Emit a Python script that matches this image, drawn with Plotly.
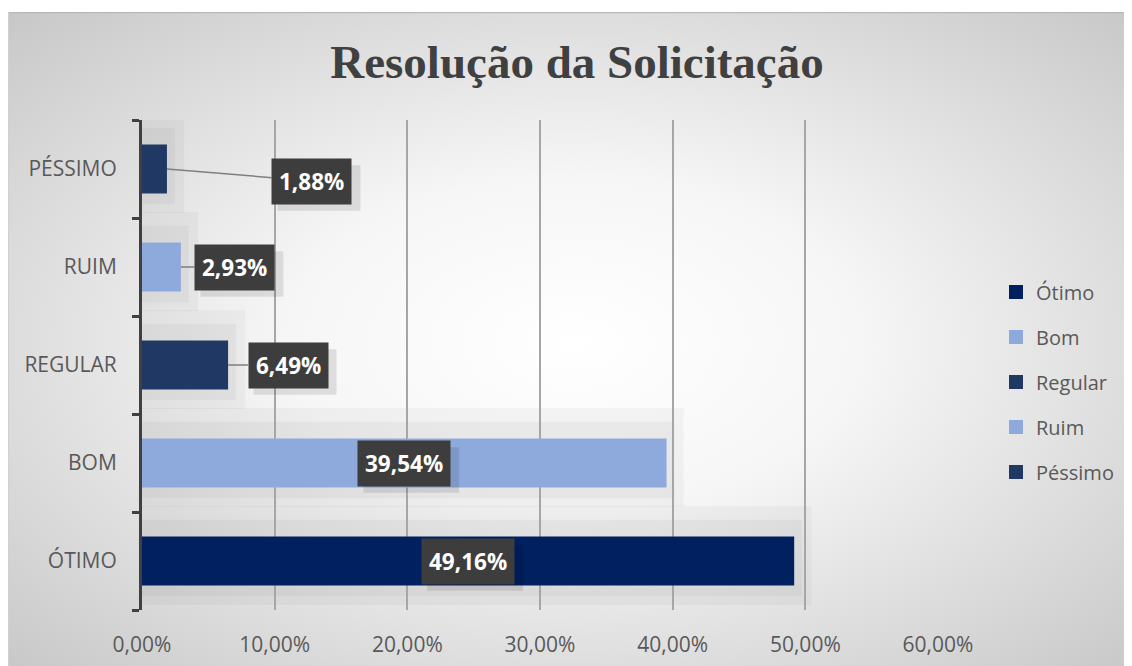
import base64
import plotly.graph_objects as go

# ---------------- data ----------------
categories = ["ÓTIMO", "BOM", "REGULAR", "RUIM", "PÉSSIMO"]
series_names = ["Ótimo", "Bom", "Regular", "Ruim", "Péssimo"]
values = [49.16, 39.54, 6.49, 2.93, 1.88]
x_tick_values = [0, 10, 20, 30, 40, 50, 60]

# ---------------- styles ----------------
colors = ["#002060", "#8EA9DB", "#1F3864", "#8EA9DB", "#1F3864"]
# label offsets (pixels) for labels drawn outside short bars: (ax, ay)
outside_offsets = {2: (60, 0), 3: (54, 0), 4: (145, 12)}

W, H = 1132, 666
L, T = 134, 112
pw, ph = 796, 490
R, B = W - L - pw, H - T - ph

fig = go.Figure()
for i, (cat, name, v) in enumerate(zip(categories, series_names, values)):
    fig.add_trace(go.Bar(
        y=[cat], x=[v / 100], orientation="h", name=name,
        marker=dict(color=colors[i], line=dict(width=0)),
        width=0.5, showlegend=False, hoverinfo="skip",
    ))
# legend entries (square markers like the reference)
for i, name in enumerate(series_names):
    fig.add_trace(go.Scatter(
        x=[None], y=[None], mode="markers", name=name, legendgroup=name,
        marker=dict(symbol="square", size=14, color=colors[i]), hoverinfo="skip",
    ))

def lab(v):
    return f"{v:.2f}%".replace(".", ",")

LABEL_SIZE = 22.5
PAD = 7

def box_size(text):
    nd = sum(c.isdigit() for c in text)
    w = LABEL_SIZE * (0.572 * nd + 0.29 + 0.88) + 2 * PAD + 4
    h = LABEL_SIZE * 1.4 + 2 * PAD
    return w, h

shapes = []
annotations = []
for i, v in enumerate(values):
    # soft bar shadow
    shapes.append(dict(type="rect", xref="x", yref="y", x0=0, x1=v / 100 + 0.013,
                       y0=i - 0.45, y1=i + 0.56, fillcolor="rgba(0,0,0,0.03)",
                       line=dict(width=0), layer="below"))
    shapes.append(dict(type="rect", xref="x", yref="y", x0=0, x1=v / 100 + 0.006,
                       y0=i - 0.36, y1=i + 0.42, fillcolor="rgba(0,0,0,0.035)",
                       line=dict(width=0), layer="below"))

label_font = dict(family="Open Sans, Lato, sans-serif", size=LABEL_SIZE, color="white")
for i, v in enumerate(values):
    t = lab(v)
    txt = "<b>" + t + "</b>"
    bw_, bh_ = box_size(t)
    if i in outside_offsets:
        ax, ay = outside_offsets[i]
        anchor_x, cx, cy = v / 100, ax, -ay
        annotations.append(dict(x=v / 100, y=i, xref="x", yref="y", text=txt,
                                showarrow=True, ax=ax, ay=ay, axref="pixel", ayref="pixel",
                                arrowhead=0, standoff=0, borderpad=PAD,
                                bgcolor="#3d3d3d", font=label_font,
                                arrowcolor="#7f7f7f", arrowwidth=1.5))
    else:
        anchor_x, cx, cy = v / 200, 0, 0
        annotations.append(dict(x=v / 200, y=i, xref="x", yref="y", text=txt,
                                showarrow=False, borderpad=PAD,
                                bgcolor="#3d3d3d", font=label_font))
    # label box shadow (offset down-right)
    sx, sy = cx + 7, cy - 7
    shapes.append(dict(type="rect", xref="x", yref="y", xsizemode="pixel", ysizemode="pixel",
                       xanchor=anchor_x, yanchor=i,
                       x0=sx - bw_ / 2, x1=sx + bw_ / 2, y0=sy - bh_ / 2, y1=sy + bh_ / 2,
                       fillcolor="rgba(0,0,0,0.10)", line=dict(width=0), layer="above"))

# radial gradient background as an inline SVG image
bx0, by0 = 0, 4
bw, bh = W - bx0, H - by0
svg = (f'<svg xmlns="http://www.w3.org/2000/svg" width="{bw}" height="{bh}">'
       '<defs><radialGradient id="g" cx="50%" cy="50%" r="72%">'
       '<stop offset="0" stop-color="#ffffff"/><stop offset="0.35" stop-color="#f6f6f6"/>'
       '<stop offset="1" stop-color="#c6c6c6"/></radialGradient></defs>'
       f'<rect width="{bw}" height="{bh}" fill="url(#g)"/>'
       f'<line x1="0" y1="0.5" x2="{bw}" y2="0.5" stroke="#b8b8b8" stroke-width="1.5"/>'
       f'<line x1="0.5" y1="0" x2="0.5" y2="{bh}" stroke="#d0d0d0" stroke-width="1"/>'
       '</svg>')
src = "data:image/svg+xml;base64," + base64.b64encode(svg.encode()).decode()

tick_font = dict(family="Open Sans, sans-serif", size=21, color="#595959")

fig.update_layout(
    width=W, height=H,
    margin=dict(l=L, r=R, t=T, b=B, autoexpand=False),
    paper_bgcolor="white", plot_bgcolor="rgba(0,0,0,0)",
    separators=",.",
    barmode="overlay",
    images=[dict(source=src, xref="paper", yref="paper",
                 x=(bx0 - L) / pw, y=(H - B - by0) / ph,
                 sizex=bw / pw, sizey=bh / ph, sizing="stretch",
                 xanchor="left", yanchor="top", layer="below")],
    title=dict(text="<b>Resolução da Solicitação</b>", xref="container", yref="container",
               x=569 / W, y=1 - 54 / H, xanchor="center", yanchor="middle",
               font=dict(family="Liberation Serif, serif", size=47, color="#404040")),
    xaxis=dict(range=[0, 0.6], tickvals=[t / 100 for t in x_tick_values], tickformat=".2%",
               showgrid=True, gridcolor="#a6a6a6", gridwidth=1.5, zeroline=False,
               showline=False, ticks="", ticklabelstandoff=20,
               tickfont=tick_font, fixedrange=True),
    yaxis=dict(categoryorder="array", categoryarray=categories, range=[-0.5, 4.5],
               showline=True, linecolor="#404040", linewidth=3,
               ticks="outside", tickson="boundaries", ticklen=7, tickwidth=3,
               tickcolor="#404040", showgrid=False, zeroline=False, ticklabelstandoff=18,
               tickfont=tick_font, fixedrange=True),
    legend=dict(x=(988 - L) / pw, y=(H - B - 374) / ph, xanchor="left", yanchor="middle",
                traceorder="grouped", tracegroupgap=16, bgcolor="rgba(0,0,0,0)",
                itemwidth=30,
                font=dict(family="Open Sans, sans-serif", size=20, color="#595959")),
    shapes=shapes, annotations=annotations,
    showlegend=True,
)

fig.write_html("out.html")
